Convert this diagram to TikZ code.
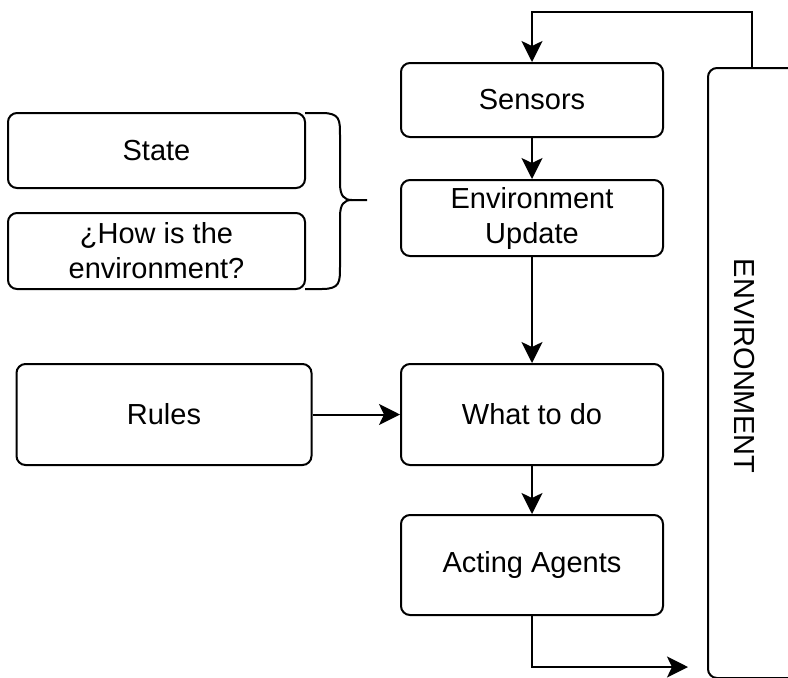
\documentclass[tikz,border=0pt]{standalone}
\usepackage{fontspec}
\setmainfont{Liberation Sans}
\usetikzlibrary{arrows.meta}
\begin{document}
\begin{tikzpicture}[x=1pt,y=-1pt,
  box/.style={draw, line width=2pt, rounded corners=9pt, align=center,
    inner sep=0pt, font=\fontsize{29}{35}\selectfont},
  conn/.style={line width=2pt, -{Stealth[length=21pt,width=21pt,inset=5pt]}},
  plain/.style={line width=2pt}]
\useasboundingbox (0,0) rectangle (788,678);
\clip (0,0) rectangle (788,678);
\fill[white] (0,0) rectangle (788,678);

\node[box, minimum width=262pt, minimum height=74pt] (sensors) at (532,100) {Sensors};
\node[box, minimum width=262pt, minimum height=76pt] (envup) at (532,218) {Environment\\Update};
\node[box, minimum width=262pt, minimum height=101pt] (what) at (532,414.5) {What to do};
\node[box, minimum width=262pt, minimum height=100pt] (acting) at (532,565) {Acting Agents};
\node[box, minimum width=297pt, minimum height=75pt] (state) at (156.5,150.5) {State};
\node[box, minimum width=297pt, minimum height=76pt] (how) at (156.5,251) {¿How is the\\environment?};
\node[box, minimum width=295pt, minimum height=101pt] (rules) at (164,414.5) {Rules};

\node[box, anchor=north west, minimum width=90pt, minimum height=610pt] (envbox) at (707,67) {};
\node[font=\fontsize{29}{35}\selectfont, rotate=-90] (envtext) at (744,366) {ENVIRONMENT};

\coordinate (toploopR) at (752,12);
\coordinate (toploopL) at (532,12);
\coordinate (botcorner) at (532,667);
\coordinate (botend) at (688,667);

\draw[conn] (sensors) -- (envup);
\draw[conn] (envup) -- (what);
\draw[conn] (what) -- (acting);
\draw[conn] (rules) -- (what);
\draw[conn] (envbox.north -| toploopR) -- (toploopR) -- (toploopL) -- (sensors.north);
\draw[conn] (acting.south) -- (botcorner) -- (botend);

% brace
\coordinate (bt) at (305,113);
\coordinate (bb) at (305,289);
\coordinate (btip) at (367,200);
\draw[plain] (bt) -- (322,113) .. controls (340,113) and (340,120) .. (340,135)
  -- (340,183) .. controls (340,196) and (344,200) .. (352,200) -- (btip);
\draw[plain] (bb) -- (322,289) .. controls (340,289) and (340,282) .. (340,267)
  -- (340,217) .. controls (340,204) and (344,200) .. (352,200);
\end{tikzpicture}
\end{document}
